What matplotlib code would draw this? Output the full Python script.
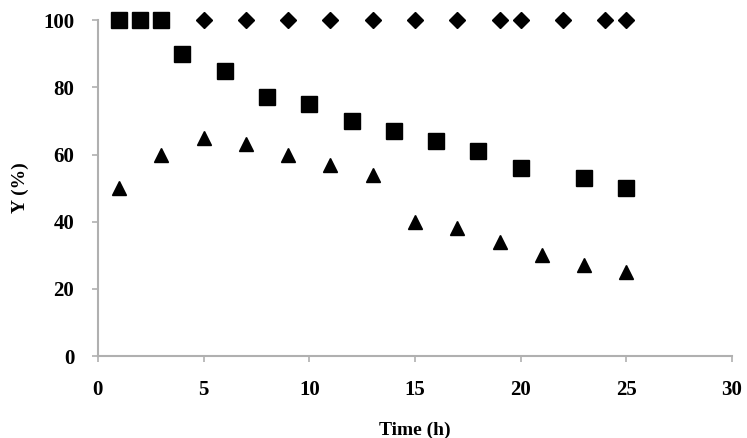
import matplotlib.pyplot as plt

# series
t_diamond = [5, 7, 9, 11, 13, 15, 17, 19, 20, 22, 24, 25]
y_diamond = [100] * 12

t_square = [1, 2, 3, 4, 6, 8, 10, 12, 14, 16, 18, 20, 23, 25]
y_square = [100, 100, 100, 90, 85, 77, 75, 70, 67, 64, 61, 56, 53, 50]

t_triangle = [1, 3, 5, 7, 9, 11, 13, 15, 17, 19, 21, 23, 25]
y_triangle = [50, 60, 65, 63, 60, 57, 54, 40, 38, 34, 30, 27, 25]

x_ticks = [0, 5, 10, 15, 20, 25, 30]
y_ticks = [0, 20, 40, 60, 80, 100]


def main():
    plt.rcParams['font.family'] = ['Liberation Serif', 'DejaVu Serif']
    plt.rcParams['font.weight'] = 'bold'

    fig = plt.figure(figsize=(7.47, 4.38), dpi=100)
    ax = fig.add_axes([0.131, 0.187, 0.849, 0.767])

    ax.plot(t_diamond, y_diamond, 'D', color='black', markersize=8, clip_on=False)
    ax.plot(t_square, y_square, 's', color='black', markersize=11.5, clip_on=False)
    ax.plot(t_triangle, y_triangle, '^', color='black', markersize=10, clip_on=False)

    ax.set_xlim(0, 30)
    ax.set_ylim(0, 100)
    ax.set_xticks(x_ticks)
    ax.set_yticks(y_ticks)

    for side in ['top', 'right']:
        ax.spines[side].set_visible(False)
    for side in ['left', 'bottom']:
        ax.spines[side].set_color('#b0b0b0')
        ax.spines[side].set_linewidth(1.5)
    ax.tick_params(direction='out', color='#b0b0b0', width=1.2, length=4,
                   labelsize=15, pad=13)
    for lbl in ax.get_xticklabels() + ax.get_yticklabels():
        lbl.set_fontweight('bold')

    ax.set_xlabel('Time (h)', fontsize=14, fontweight='bold', labelpad=16)
    ax.set_ylabel('Y (%)', fontsize=14, fontweight='bold', labelpad=10)

    fig.savefig('out.png', dpi=100)


if __name__ == '__main__':
    main()
